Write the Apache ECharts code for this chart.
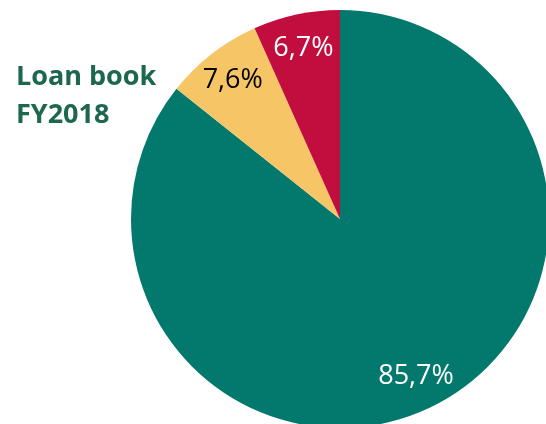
<!DOCTYPE html>
<html><head><meta charset="utf-8">
<script src="https://cdn.jsdelivr.net/npm/echarts@6/dist/echarts.min.js"></script>
<style>html,body{margin:0;padding:0;background:#fff}#c{width:546px;height:424px}</style>
</head><body><div id="c"></div>
<script>
const categories = ['Segment A', 'Segment B', 'Segment C'];
const values = [85.7, 7.6, 6.7];
const colors = ['#03786D', '#F6C566', '#C20E3E'];
const labelColors = ['#ffffff', '#000000', '#ffffff'];
const titleText = 'Loan book\nFY2018';

const chart = echarts.init(document.getElementById('c'));
const fmt = p => p.value.toFixed(1).replace('.', ',') + '%';
chart.setOption({
  animation: false,
  title: {
    text: titleText, left: 11, top: 53,
    textStyle: { fontFamily: 'Open Sans', fontWeight: 'bold', fontSize: 27, color: '#1D6650', lineHeight: 38 }
  },
  series: [
    {
      type: 'pie', center: [340, 219], radius: [0, 209], startAngle: 90, clockwise: true,
      silent: true, label: { show: false }, labelLine: { show: false },
      data: categories.map((c, i) => ({ name: c, value: values[i], itemStyle: { color: colors[i] } }))
    },
    {
      type: 'pie', center: [340, 219], radius: [0, 344], startAngle: 90, clockwise: true,
      silent: true, z: 5,
      itemStyle: { color: 'rgba(0,0,0,0)' },
      label: { show: true, position: 'inside', formatter: fmt, fontFamily: 'Open Sans', fontSize: 27 },
      labelLine: { show: false },
      data: categories.map((c, i) => ({ name: c, value: values[i], label: { color: labelColors[i] } }))
    }
  ]
});
</script></body></html>
